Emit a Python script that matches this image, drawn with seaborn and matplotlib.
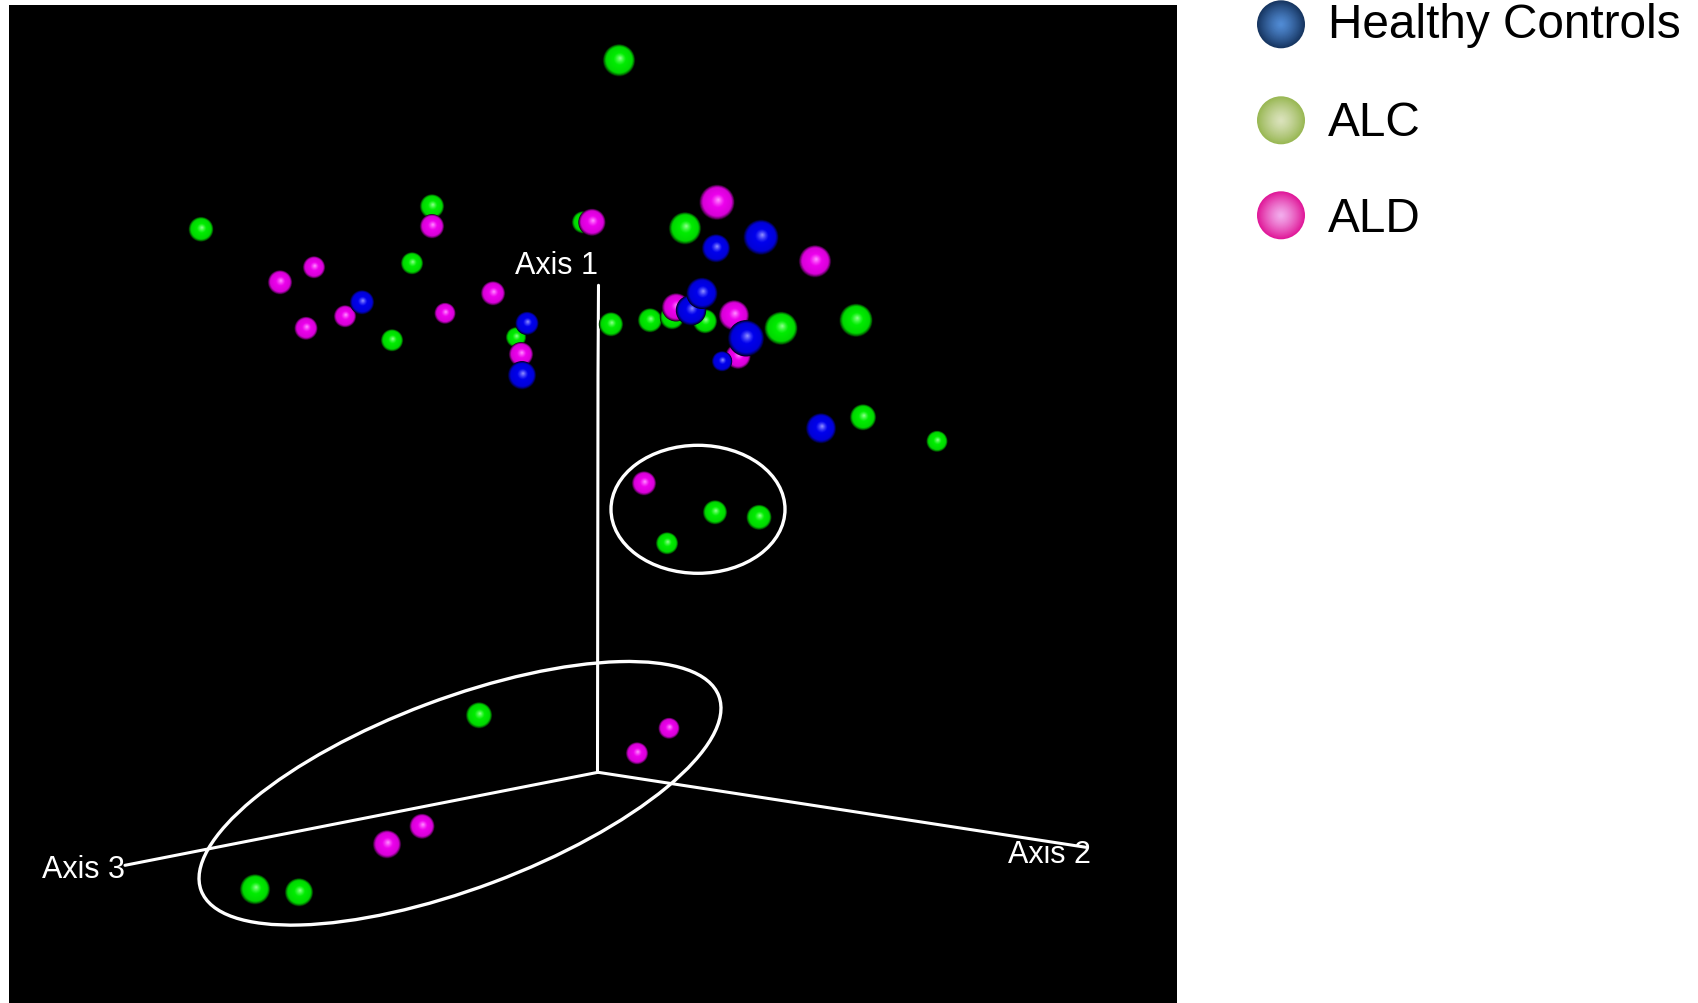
import numpy as np
import pandas as pd
import matplotlib
matplotlib.use('Agg')
import matplotlib.pyplot as plt
from matplotlib.patches import Ellipse, Rectangle
import seaborn as sns

# 每个球: 组别, 横坐标, 纵坐标, 半径(近大远小), 按遮挡先后排列
group = ['ALC', 'ALC', 'ALC', 'ALC', 'ALC', 'ALC', 'ALD', 'ALD', 'ALD', 'ALD', 'ALD', 'ALD', 'ALD', 'ALD',
         'HC', 'HC', 'ALD', 'HC', 'ALD', 'ALC', 'ALC', 'ALC', 'ALC', 'ALC', 'ALD', 'HC', 'ALD', 'ALD',
         'HC', 'ALC', 'ALC', 'ALC', 'ALD', 'HC', 'HC', 'ALC', 'HC', 'ALD', 'HC', 'HC',
         'ALC', 'ALC', 'ALD', 'ALC', 'ALC', 'ALC', 'ALC', 'ALC', 'ALD', 'ALD', 'ALD']
x_val = [201, 432, 412, 392, 516, 583, 280, 314, 306, 345, 432, 445, 493, 521,
         362, 527, 592, 522, 738, 611, 650, 672, 705, 685, 717, 722, 815, 676,
         716, 619, 781, 856, 734, 761, 691, 863, 821, 644, 702, 746,
         715, 759, 669, 667, 479, 937, 255, 299, 637, 422, 387]
y_val = [229, 206, 263, 340, 337, 222, 282, 267, 328, 316, 226, 313, 293, 354,
         302, 323, 222, 375, 356, 324, 320, 317, 321, 228, 202, 361, 261, 307,
         248, 60, 328, 320, 315, 237, 310, 417, 428, 483, 293, 338,
         512, 517, 728, 543, 715, 441, 889, 892, 753, 826, 844]
radius = [12.5, 12.2, 11.2, 11.2, 10.2, 11.2, 12.2, 11.2, 11.7, 11.2, 12.2, 10.7, 12.2, 12.2,
          12.2, 11.7, 13.7, 14.2, 12.7, 12.2, 12.2, 12.2, 12.2, 16.2, 17.7, 10.2, 16.2, 14.2,
          14.2, 16.2, 16.7, 16.7, 15.2, 17.7, 15.2, 13.2, 15.2, 12.2, 15.7, 18.2,
          12.2, 12.7, 10.7, 11.2, 13.2, 10.7, 15.2, 14.2, 11.2, 12.7, 14.2]

# 坐标轴线
axis1_x = [598.5, 598, 597.5]
axis1_y = [285, 375, 772]
axis2_x = [598, 1086]
axis2_y = [772, 847]
axis3_x = [598, 125]
axis3_y = [772, 865]

# 图例
legend_names = ['Healthy Controls', 'ALC', 'ALD']
legend_y = [24, 120, 215]
legend_edge = [(0.09, 0.21, 0.38), (0.60, 0.72, 0.33), (0.88, 0.10, 0.60)]
legend_mid = [(0.32, 0.55, 0.84), (0.86, 0.89, 0.74), (0.95, 0.68, 0.93)]

base_colors = {'ALC': (0.0, 1.0, 0.0), 'ALD': (1.0, 0.0, 1.0), 'HC': (0.0, 0.0, 1.0)}
layers = np.linspace(1, 0.04, 24)


def ball_color(base, t):
    base = np.array(base)
    # 边缘暗, 往里渐亮, 中心一小块高光
    if t > 0.82:
        shade = 0.12 + 0.73 * ((1 - t) / 0.18) ** 0.8
    else:
        shade = 0.85 + 0.15 * (1 - t / 0.82)
    col = base * shade
    col = col + (1 - col) * 0.62 * (max(0, 0.42 - t) / 0.42) ** 1.3
    return tuple(col)


sns.set_theme(style='white')
plt.rcParams['font.family'] = ['Liberation Sans', 'DejaVu Sans']

fig = plt.figure(figsize=(16.98, 10.04), dpi=100)
ax = fig.add_axes([0, 0, 1, 1])
ax.axis('off')
ax.add_patch(Rectangle((9, 4.7), 1168, 1002, fc='black', lw=0, zorder=0))

# 坐标轴线和圈
for lx, ly in [(axis1_x, axis1_y), (axis2_x, axis2_y), (axis3_x, axis3_y)]:
    ax.plot(lx, ly, color='white', lw=2.2, zorder=1)
ax.add_patch(Ellipse((698, 509), 174, 128, fill=False, ec='white', lw=2.4, zorder=1))
ax.add_patch(Ellipse((460, 793), 553, 190, angle=-20.6, fill=False, ec='white', lw=2.4, zorder=1))

for txt, tx, ty in [('Axis 1', 515, 273), ('Axis 2', 1008, 862), ('Axis 3', 42, 877)]:
    ax.text(tx, ty, txt, color='white', fontsize=22, va='baseline', ha='left', zorder=4)

# 把每个球拆成一层层同心圆, 画出球面高光
rows = []
for g, xv, yv, r in zip(group, x_val, y_val, radius):
    for t in layers:
        rows.append({'x': xv + r * 0.08 * (1 - t), 'y': yv - r * 0.14 * (1 - t),
                     'area': (2 * r * t * 0.72) ** 2,
                     'col': ball_color(base_colors[g], t)})
balls = pd.DataFrame(rows)
sns.scatterplot(data=balls, x='x', y='y', s=balls['area'].values, c=list(balls['col']),
                linewidth=0, ax=ax, legend=False, zorder=3)

# 图例的球和文字
rows = []
for edge, mid, ly in zip(legend_edge, legend_mid, legend_y):
    edge = np.array(edge)
    mid = np.array(mid)
    for t in np.linspace(1, 0.04, 24):
        rows.append({'x': 1281, 'y': ly, 'area': (2 * 24 * t * 0.72) ** 2,
                     'col': tuple(mid + (edge - mid) * t ** 1.3)})
swatch = pd.DataFrame(rows)
sns.scatterplot(data=swatch, x='x', y='y', s=swatch['area'].values, c=list(swatch['col']),
                linewidth=0, ax=ax, legend=False, zorder=3)

for name, by in zip(legend_names, [37, 135, 231]):
    ax.text(1328, by, name, color='black', fontsize=34.4, va='baseline', ha='left')
ax.set_xlabel('')
ax.set_ylabel('')
ax.set_xlim(0, 1698)
ax.set_ylim(1002.7, -1.3)

fig.savefig('out.png', dpi=100)
